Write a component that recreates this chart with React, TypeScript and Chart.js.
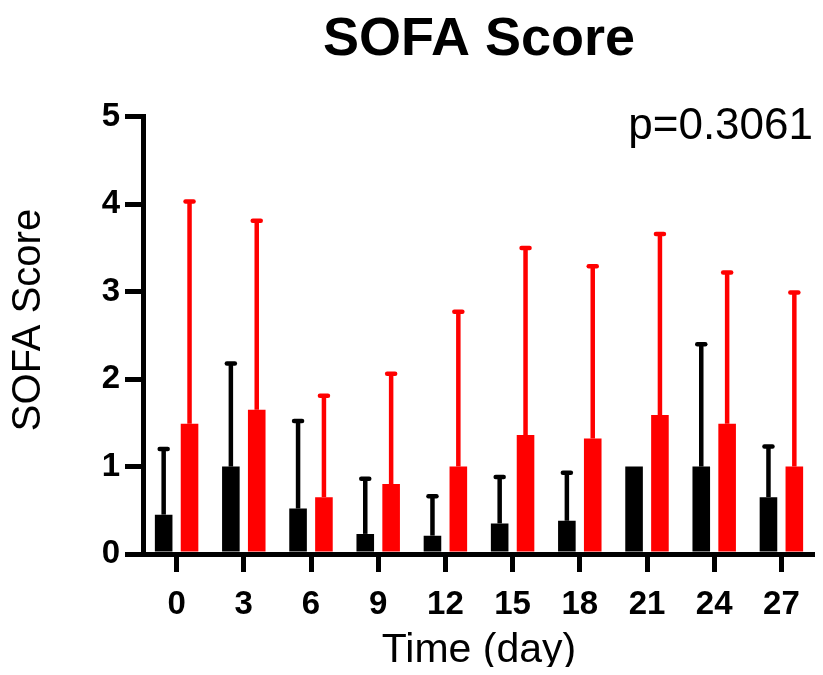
import React, { useEffect, useRef } from 'react';
import { Chart, registerables } from 'chart.js';

Chart.register(...registerables);

const categories = ['0', '3', '6', '9', '12', '15', '18', '21', '24', '27'];
const blackMean = [0.45, 1.0, 0.52, 0.23, 0.21, 0.35, 0.38, 1.0, 1.0, 0.65];
const blackUpper: (number | null)[] = [1.2, 2.18, 1.52, 0.86, 0.66, 0.88, 0.93, null, 2.4, 1.23];
const redMean = [1.49, 1.65, 0.65, 0.8, 1.0, 1.36, 1.32, 1.59, 1.49, 1.0];
const redUpper: (number | null)[] = [4.03, 3.81, 1.81, 2.06, 2.77, 3.5, 3.29, 3.66, 3.22, 2.99];
const yMin = 0;
const yMax = 5;
const yStep = 1;
const chartTitle = 'SOFA Score';
const yTitle = 'SOFA Score';
const xTitle = 'Time (day)';
const pValueText = 'p=0.3061';

const FONT = "'Liberation Sans', Arial, Helvetica, sans-serif";
const W = 807;
const H = 659;

const errorBarPlugin = {
  id: 'errorBars',
  afterDatasetsDraw(chart: any) {
    const ctx = chart.ctx;
    const yScale = chart.scales.y;
    chart.data.datasets.forEach((ds: any, i: number) => {
      const meta = chart.getDatasetMeta(i);
      const uppers = ds.errorUpper as (number | null)[];
      meta.data.forEach((el: any, j: number) => {
        const up = uppers[j];
        if (up == null) return;
        const x = el.x;
        const yTop = yScale.getPixelForValue(up);
        ctx.save();
        ctx.strokeStyle = ds.backgroundColor;
        ctx.lineWidth = 4.5;
        ctx.beginPath();
        ctx.moveTo(x, el.y);
        ctx.lineTo(x, yTop);
        ctx.stroke();
        ctx.lineCap = 'round';
        ctx.beginPath();
        ctx.moveTo(x - 4, yTop);
        ctx.lineTo(x + 4, yTop);
        ctx.stroke();
        ctx.restore();
      });
    });
  },
};

const textPlugin = {
  id: 'extraText',
  afterDraw(chart: any) {
    const ctx = chart.ctx;
    ctx.save();
    ctx.fillStyle = '#000';
    ctx.font = `44px ${FONT}`;
    ctx.textAlign = 'right';
    ctx.textBaseline = 'alphabetic';
    ctx.fillText(pValueText, 805, 131);
    ctx.translate(21, 312);
    ctx.rotate(-Math.PI / 2);
    ctx.font = `40px ${FONT}`;
    ctx.textAlign = 'center';
    ctx.textBaseline = 'middle';
    ctx.fillText(yTitle, 0, 0);
    ctx.restore();
  },
};

export default function App() {
  const ref = useRef<HTMLCanvasElement | null>(null);
  useEffect(() => {
    if (!ref.current) return;
    Chart.defaults.font.family = FONT;
    const chart = new Chart(ref.current, {
      type: 'bar',
      data: {
        labels: categories,
        datasets: [
          {
            label: 'Group 1',
            data: blackMean,
            backgroundColor: '#000000',
            borderWidth: 0,
            categoryPercentage: 0.77,
            barPercentage: 0.68,
            errorUpper: blackUpper,
          } as any,
          {
            label: 'Group 2',
            data: redMean,
            backgroundColor: '#ff0000',
            borderWidth: 0,
            categoryPercentage: 0.77,
            barPercentage: 0.68,
            errorUpper: redUpper,
          } as any,
        ],
      },
      options: {
        responsive: false,
        animation: false,
        layout: { padding: 0 },
        plugins: {
          legend: { display: false },
          tooltip: { enabled: false },
          title: {
            display: true,
            text: chartTitle,
            fullSize: false,
            color: '#000',
            font: { family: FONT, size: 54, weight: 'bold', lineHeight: 1.2 },
            padding: { top: 0, bottom: 44 },
          },
        },
        scales: {
          x: {
            offset: true,
            grid: {
              display: true,
              offset: false,
              drawOnChartArea: false,
              drawTicks: true,
              tickLength: 18,
              tickWidth: 5,
              tickColor: '#000',
              lineWidth: 5,
              color: '#000',
            },
            border: { display: true, width: 5, color: '#000' },
            ticks: {
              color: '#000',
              font: { family: FONT, size: 33, weight: 'bold', lineHeight: 1.2 },
              padding: 13,
              maxRotation: 0,
              minRotation: 0,
              autoSkip: false,
            },
            title: {
              display: true,
              text: xTitle,
              color: '#000',
              font: { family: FONT, size: 41, lineHeight: 0.8 },
              padding: 0,
            },
            afterFit: (s: any) => {
              s.height = 113;
            },
          },
          y: {
            min: yMin,
            max: yMax,
            grid: {
              display: true,
              drawOnChartArea: false,
              drawTicks: true,
              tickLength: 18,
              tickWidth: 5,
              tickColor: '#000',
              lineWidth: 5,
              color: '#000',
            },
            border: { display: true, width: 5, color: '#000' },
            ticks: {
              stepSize: yStep,
              color: '#000',
              font: { family: FONT, size: 33, weight: 'bold', lineHeight: 1.2 },
              padding: 5,
            },
            afterFit: (s: any) => {
              s.width = 135;
            },
          },
        },
      } as any,
      plugins: [errorBarPlugin, textPlugin],
    });
    return () => chart.destroy();
  }, []);
  return (
    <div style={{ width: W, height: H }}>
      <canvas ref={ref} width={W} height={H} style={{ display: 'block' }} />
    </div>
  );
}
